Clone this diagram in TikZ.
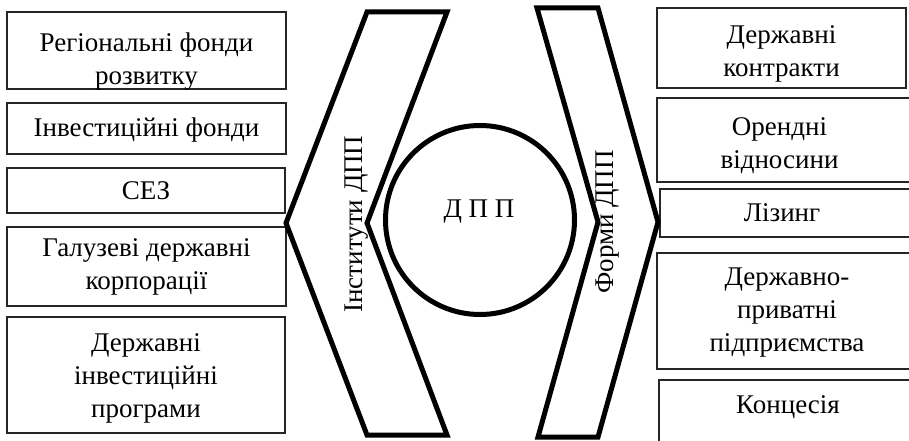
\documentclass[tikz,border=0pt]{standalone}
\usepackage{fontspec}
\setmainfont{Liberation Serif}
\usetikzlibrary{positioning}

\begin{document}
\begin{tikzpicture}[x=1pt,y=-1pt,
  every node/.style={font=\fontsize{27pt}{33pt}\selectfont, inner sep=0pt},
  box/.style={draw=black!85, line width=1.2pt},
  txt/.style={align=center},
  bold/.style={draw, line width=5pt, line join=miter}]
\clip (0,0) rectangle (909,441);
\node[box, minimum width=279pt, minimum height=77pt] (inst1) at (146.5,50.5) {};
\node[box, minimum width=279pt, minimum height=51pt] (inst2) at (146.5,128.5) {};
\node[box, minimum width=278pt, minimum height=45pt] (inst3) at (146,190.5) {};
\node[box, minimum width=279pt, minimum height=79pt] (inst4) at (146.5,266.5) {};
\node[box, minimum width=278pt, minimum height=116pt] (inst5) at (146,375) {};
\node[txt, below=21.5pt of inst1.north] (inst1t) {Регіональні фонди\\розвитку};
\node[txt, below=15.5pt of inst2.north] (inst2t) {Інвестиційні фонди};
\node[txt, below=14pt of inst3.north] (inst3t) {СЕЗ};
\node[txt, below=12.5pt of inst4.north] (inst4t) {Галузеві державні\\корпорації};
\node[txt, below=17.5pt of inst5.north] (inst5t) {Державні\\інвестиційні\\програми};

\node[box, minimum width=249pt, minimum height=80pt] (form1) at (781.5,48) {};
\node[box, minimum width=255pt, minimum height=84pt] (form2) at (784.5,140) {};
\node[box, minimum width=252pt, minimum height=48pt] (form3) at (786,213) {};
\node[box, minimum width=260pt, minimum height=116pt] (form4) at (787,311) {};
\node[box, minimum width=258pt, minimum height=80pt] (form5) at (788,420) {};
\node[txt, below=18.5pt of form1.north] (form1t) {Державні\\контракти};
\node[txt, below=20.5pt of form2.north, xshift=-5pt] (form2t) {Орендні\\відносини};
\node[txt, below=15.5pt of form3.north, xshift=-4pt] (form3t) {Лізинг};
\node[txt, below=15.5pt of form4.north] (form4t) {Державно-\\приватні\\підприємства};
\node[txt, below=16.5pt of form5.north] (form5t) {Концесія};

\draw[bold] (367,12) -- (447,12) -- (367,223) -- (447,435) -- (367,435) -- (286,223) -- cycle;
\draw[bold] (537,8) -- (598,8) -- (658,222) -- (598,437) -- (538,437) -- (598,222) -- cycle;
\node[bold, circle, minimum size=189pt] (dpp) at (480,220) {};

\node[anchor=base] (dpptext) at (479,217) {Д П П};
\node[anchor=base, rotate=90] (inst) at (362,224) {Інститути ДПП};
\node[anchor=base, rotate=90] (form) at (613,222) {Форми ДПП};
\end{tikzpicture}
\end{document}
